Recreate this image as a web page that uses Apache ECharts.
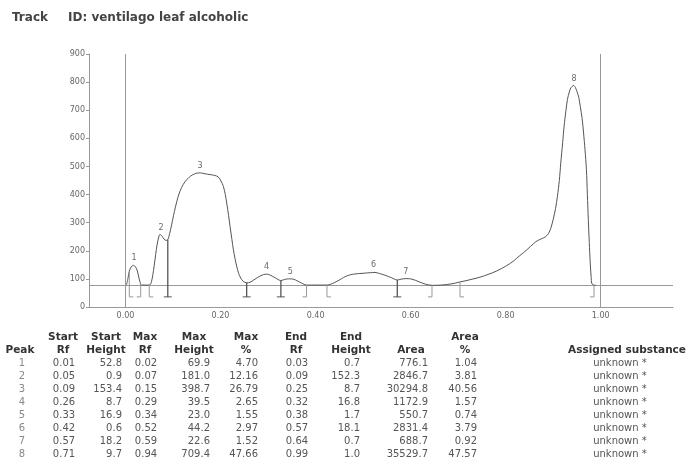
<!DOCTYPE html>
<html>
<head>
<meta charset="utf-8">
<script src="https://cdn.jsdelivr.net/npm/echarts@6/dist/echarts.min.js"></script>
<style>
html,body{margin:0;padding:0;background:#fff;}
#c{width:689px;height:466px;}
</style>
</head>
<body>
<div id="c"></div>
<script>
// ---- chart data ----
const titleLeft = 'Track';
const titleRight = 'ID: ventilago leaf alcoholic';
const baselineLevel = 77;
const markerBottom = 36;
const xTickValues = [0, 0.2, 0.4, 0.6, 0.8, 1.0];
const scanEdges = [0, 1];
// densitogram trace [Rf, absolute height]
const trace = [
  [0.002,78],[0.005,100],[0.008,127],[0.012,143],[0.017,148],[0.021,143],[0.025,128],[0.028,106],[0.031,86],[0.033,78],
  [0.05,78],[0.053,82],[0.056,100],[0.059,130],[0.062,168],[0.065,205],[0.068,235],[0.0726,258],[0.077,252],[0.081,242],[0.085,237],[0.089,239],
  [0.093,262],[0.097,292],[0.101,325],[0.105,355],[0.111,394],[0.118,425],[0.125,445],[0.133,460],[0.141,470],[0.15,476],[0.158,477],[0.167,474],[0.178,471],[0.188,468],[0.195,463],[0.201,448],[0.206,429],[0.21,400],[0.213,370],[0.217,325],[0.22,287],[0.224,240],[0.227,204],[0.231,168],[0.234,145],[0.238,120],[0.2425,103],[0.248,91],[0.255,86],
  [0.262,88],[0.27,96],[0.28,107],[0.29,115],[0.297,117],[0.305,113],[0.315,104],[0.327,94],
  [0.335,98],[0.343,100],[0.35,100],[0.358,96],[0.366,89],[0.374,82],[0.381,78],
  [0.424,78],[0.432,81],[0.44,87],[0.45,96],[0.459,105],[0.468,112],[0.48,117],[0.5,120],[0.515,122],[0.525,123],[0.535,119],[0.548,112],[0.56,104],[0.572,96],
  [0.58,99],[0.59,101],[0.6,100],[0.61,95],[0.62,88],[0.632,81],[0.645,77],
  [0.665,78],[0.685,82],[0.704,89],[0.725,97],[0.746,106],[0.765,117],[0.781,128],[0.8,145],[0.816,163],[0.83,183],[0.845,204],[0.859,226],[0.868,237],[0.876,243],[0.884,250],[0.89,261],[0.895,280],[0.9,311],[0.905,350],[0.909,394],[0.913,450],[0.916,512],[0.92,585],[0.923,643],[0.927,700],[0.93,738],[0.934,765],[0.937,779],[0.943,788],[0.947,780],[0.95,767],[0.954,745],[0.957,714],[0.961,670],[0.964,619],[0.967,560],[0.97,489],[0.972,400],[0.974,311],[0.976,230],[0.978,157],[0.98,105],[0.981,85],[0.984,79],[0.99,77]
];
// peak apex positions as drawn [Rf, absolute height]
const peakLabelNames = ['1','2','3','4','5','6','7','8'];
const peakApexRf = [0.018, 0.075, 0.157, 0.297, 0.347, 0.522, 0.59, 0.944];
const peakApexY  = [148, 258, 477, 117, 100, 124, 101, 788];
// peak boundary markers: Rf, top height, kind (0 start, 1 end, 2 both)
const markerRf   = [0.008, 0.032, 0.05, 0.089, 0.255, 0.327, 0.381, 0.424, 0.572, 0.645, 0.704, 0.986];
const markerTop  = [127, 79, 79, 239, 86, 94, 78, 78, 96, 77, 89, 77];
const markerKind = [0, 1, 0, 2, 2, 2, 1, 0, 2, 1, 0, 1];

// ---- table data ----
const peakNo      = [1,2,3,4,5,6,7,8];
const startRf     = [0.01,0.05,0.09,0.26,0.33,0.42,0.57,0.71];
const startHeight = [52.8,0.9,153.4,8.7,16.9,0.6,18.2,9.7];
const maxRf       = [0.02,0.07,0.15,0.29,0.34,0.52,0.59,0.94];
const maxHeight   = [69.9,181.0,398.7,39.5,23.0,44.2,22.6,709.4];
const maxPct      = [4.70,12.16,26.79,2.65,1.55,2.97,1.52,47.66];
const endRf       = [0.03,0.09,0.25,0.32,0.38,0.57,0.64,0.99];
const endHeight   = [0.7,152.3,8.7,16.8,1.7,18.1,0.7,1.0];
const area        = [776.1,2846.7,30294.8,1172.9,550.7,2831.4,688.7,35529.7];
const areaPct     = [1.04,3.81,40.56,1.57,0.74,3.79,0.92,47.57];
const substance   = ['unknown *','unknown *','unknown *','unknown *','unknown *','unknown *','unknown *','unknown *'];

// ---- layout / style (not data) ----
const FONT = 'DejaVu Sans, Liberation Sans, sans-serif';
const columns = [
  {h1:'',      h2:'Peak',   hx:20,  vals:peakNo,      dec:0, vx:22,  va:'center', col:'#888'},
  {h1:'Start', h2:'Rf',     hx:63,  vals:startRf,     dec:2, vx:64,  va:'center'},
  {h1:'Start', h2:'Height', hx:106, vals:startHeight, dec:1, vx:122, va:'right'},
  {h1:'Max',   h2:'Rf',     hx:145, vals:maxRf,       dec:2, vx:146, va:'center'},
  {h1:'Max',   h2:'Height', hx:194, vals:maxHeight,   dec:1, vx:210, va:'right'},
  {h1:'Max',   h2:'%',      hx:246, vals:maxPct,      dec:2, vx:258, va:'right'},
  {h1:'End',   h2:'Rf',     hx:296, vals:endRf,       dec:2, vx:297, va:'center'},
  {h1:'End',   h2:'Height', hx:351, vals:endHeight,   dec:1, vx:360, va:'right'},
  {h1:'',      h2:'Area',   hx:411, vals:area,        dec:1, vx:428, va:'right'},
  {h1:'Area',  h2:'%',      hx:465, vals:areaPct,     dec:2, vx:477, va:'right'},
  {h1:'',      h2:'Assigned substance', hx:627, vals:substance, dec:-1, vx:620, va:'center'}
];
const headY1 = 337, headY2 = 350, rowY0 = 363, rowStep = 13.1;

const graphics = [];
graphics.push({type:'text', left:12, top:12, style:{text:titleLeft, font:'bold 12px '+FONT, fill:'#444'}});
graphics.push({type:'text', left:68, top:12, style:{text:titleRight, font:'bold 12px '+FONT, fill:'#444'}});
columns.forEach(c => {
  const hs = {font:'bold 10.5px '+FONT, fill:'#333', align:'center', verticalAlign:'middle', textAlign:'center', textVerticalAlign:'middle'};
  if (c.h1) graphics.push({type:'text', x:c.hx, y:headY1, style:Object.assign({text:c.h1}, hs)});
  graphics.push({type:'text', x:c.hx, y:headY2, style:Object.assign({text:c.h2}, hs)});
  c.vals.forEach((v, i) => {
    const t = c.dec < 0 ? v : (c.dec === 0 ? String(v) : v.toFixed(c.dec));
    graphics.push({type:'text', x:c.vx, y:rowY0 + i*rowStep,
      style:{text:t, font:'10px '+FONT, fill:c.col || '#555', align:c.va, verticalAlign:'middle', textAlign:c.va, textVerticalAlign:'middle'}});
  });
});

const chart = echarts.init(document.getElementById('c'), null, {renderer:'canvas'});
const markerData = markerRf.map((r,i) => [r, markerTop[i], markerKind[i]]);
const labelData = peakApexRf.map((r,i) => ({value:[r, peakApexY[i]], name:peakLabelNames[i]}));

chart.setOption({
  animation:false,
  backgroundColor:'#fff',
  grid:{left:89, top:54, width:584, height:253, containLabel:false},
  xAxis:{
    type:'value', min:-0.0768, max:1.1522,
    axisLine:{show:true, onZero:false, lineStyle:{color:'#999', width:1}},
    axisTick:{show:false},
    splitLine:{show:false},
    axisLabel:{customValues:xTickValues, formatter:v => v.toFixed(2), color:'#666', fontSize:8, fontFamily:FONT, margin:5}
  },
  yAxis:{
    type:'value', min:0, max:900, interval:100,
    axisLine:{show:true, onZero:false, lineStyle:{color:'#999', width:1}},
    axisTick:{show:true, length:3, lineStyle:{color:'#999'}},
    splitLine:{show:false},
    axisLabel:{color:'#666', fontSize:8, fontFamily:FONT, margin:4}
  },
  graphic:graphics,
  series:[
    {
      type:'line', data:trace, smooth:0.3, showSymbol:false, symbol:'none',
      lineStyle:{color:'#555', width:1}, z:5,
      markLine:{
        silent:true, symbol:['none','none'], label:{show:false},
        lineStyle:{color:'#999', width:1, type:'solid'},
        data:[{yAxis:baselineLevel}].concat(scanEdges.map(v => ({xAxis:v})))
      }
    },
    {
      type:'custom', data:markerData, z:6,
      renderItem:(params, api) => {
        const x = api.value(0), top = api.value(1), kind = api.value(2);
        const p1 = api.coord([x, top]);
        const p2 = api.coord([x, markerBottom]);
        const dark = kind === 2;
        const col = dark ? '#555' : '#999';
        const w = dark ? 1.3 : 1;
        let fx1 = p2[0], fx2 = p2[0];
        if (kind === 0) fx2 = p2[0] + 4;
        else if (kind === 1) fx1 = p2[0] - 4;
        else { fx1 = p2[0] - 4; fx2 = p2[0] + 4; }
        return {type:'group', children:[
          {type:'line', shape:{x1:p1[0], y1:p1[1], x2:p2[0], y2:p2[1]}, style:{stroke:col, lineWidth:w}},
          {type:'line', shape:{x1:fx1, y1:p2[1], x2:fx2, y2:p2[1]}, style:{stroke:col, lineWidth:1}}
        ]};
      }
    },
    {
      type:'scatter', data:labelData, symbolSize:0, z:7,
      label:{show:true, position:'top', distance:3, formatter:p => p.name, color:'#444', fontSize:8, fontFamily:FONT}
    }
  ]
});
</script>
</body>
</html>
